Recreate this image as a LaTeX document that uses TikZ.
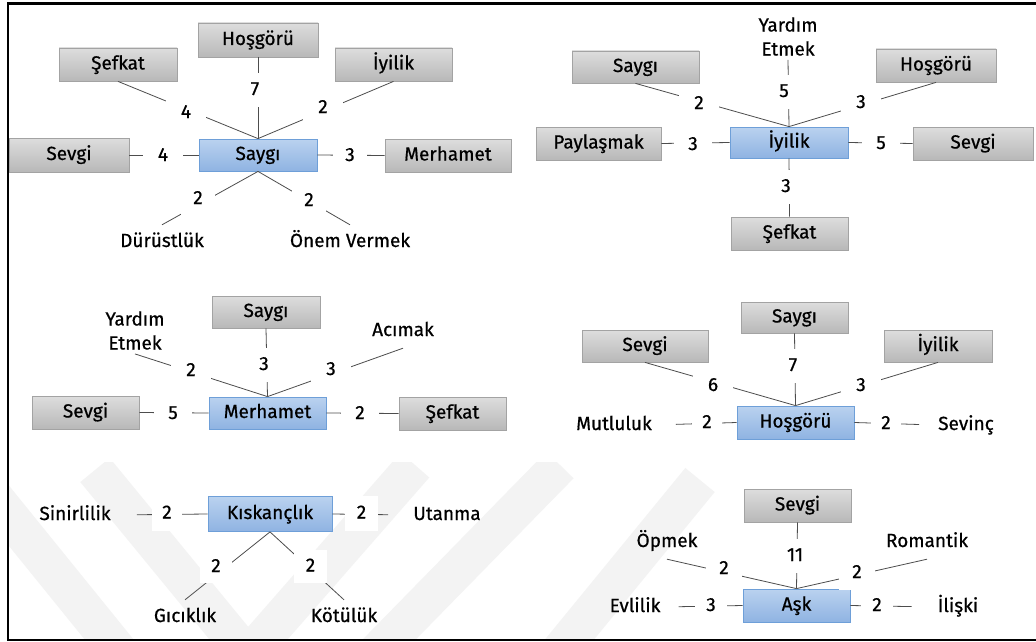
\documentclass[tikz,border=0pt]{standalone}
\usepackage{fontspec}
\setmainfont{Fira Sans}[FakeBold=0.6]
\definecolor{hubtop}{HTML}{BAD2EF}
\definecolor{hubbot}{HTML}{8FB3E2}
\definecolor{hubedge}{HTML}{6E9FD8}
\definecolor{leaftop}{HTML}{DDDDDD}
\definecolor{leafbot}{HTML}{B8B8B8}
\definecolor{leafedge}{HTML}{A3A3A3}
\definecolor{linkc}{HTML}{4D4D4D}
\definecolor{wmgray}{HTML}{F3F3F3}
\begin{document}
\begin{tikzpicture}[x=1pt,y=-1pt,
  every node/.style={font=\fontsize{19}{23}\selectfont, text=black},
  hub/.style={draw=hubedge, line width=0.8, top color=hubtop, bottom color=hubbot,
              inner sep=0, text height=14, text depth=4},
  leaf/.style={draw=leafedge, line width=0.8, top color=leaftop, bottom color=leafbot,
               inner sep=0, text height=14, text depth=4},
  word/.style={inner xsep=3, inner ysep=8, text height=14, text depth=4},
  words/.style={align=center, inner sep=4, font=\fontsize{19}{24}\selectfont},
  num/.style={fill=white, inner sep=0, minimum width=34, minimum height=34,
              text height=14, text depth=4},
  link/.style={draw=linkc, line width=0.8},
  wm/.style={draw=wmgray, line width=38},
  frame/.style={draw=black, line width=2.6},
]
% canvas
\fill[white] (0,0) rectangle (1036,642);
\useasboundingbox (0,0) rectangle (1036,642);

% faint background emblem (lower left)
\begin{scope}
  \clip (9,462) rectangle (1036,639);
  \draw[wm] (-20,480) -- (150,690);
  \draw[wm] (95,470) -- (255,665);
  \draw[wm] (240,665) -- (415,465);
  \draw[wm] (330,700) -- (560,465);
  \draw[wm] (520,700) -- (700,480);
\end{scope}

% ---------------- Saygı ----------------
\node[hub,  minimum width=118, minimum height=32] (s1)   at (258,155)   {Saygı};
\node[leaf, minimum width=120, minimum height=34] (s1t)  at (258,40)    {Hoşgörü};
\node[leaf, minimum width=118, minimum height=33] (s1ul) at (118,64.5)  {Şefkat};
\node[leaf, minimum width=117, minimum height=33] (s1ur) at (393.5,64.5){İyilik};
\node[leaf, minimum width=120, minimum height=34] (s1l)  at (69,155)    {Sevgi};
\node[leaf, minimum width=126, minimum height=33] (s1r)  at (448,155.5) {Merhamet};
\node[word] (s1dl) at (162,242) {Dürüstlük};
\node[word] (s1dr) at (350,242) {Önem Vermek};
\draw[link] (s1ul.south) -- (s1.north);
\draw[link] (s1t.south)  -- (s1.north);
\draw[link] (s1ur.south) -- (s1.north);
\draw[link] (s1l.east)   -- (s1.west);
\draw[link] (s1.east)    -- (s1r.west);
\draw[link] (s1.south)   -- (s1dl.north);
\draw[link] (s1.south)   -- (s1dr.north);
\node[num, minimum width=40] (s1n1) at (186,113) {4};
\node[num] (s1n2) at (255,90)  {7};
\node[num, minimum width=40] (s1n3) at (323,108) {2};
\node[num, minimum width=40] (s1n4) at (163,156) {4};
\node[num] (s1n5) at (350,156) {3};
\node[num] (s1n6) at (198,199) {2};
\node[num] (s1n7) at (309,201) {2};

% ---------------- İyilik ----------------
\node[hub,  minimum width=118, minimum height=31] (s2)  at (789,142.5)   {İyilik};
\node[leaf, minimum width=127, minimum height=32] (s2ul) at (635.5,67)   {Saygı};
\node[leaf, minimum width=120, minimum height=33] (s2ur) at (936,65.5)   {Hoşgörü};
\node[leaf, minimum width=125, minimum height=33] (s2l)  at (598.5,143.5){Paylaşmak};
\node[leaf, minimum width=120, minimum height=33] (s2r)  at (973,143.5)  {Sevgi};
\node[leaf, minimum width=117, minimum height=33] (s2b)  at (789.5,233.5){Şefkat};
\node[words] (s2t) at (788,36.5) {Yardım\\Etmek};
\draw[link] (s2ul.south) -- (s2.north);
\draw[link] (s2t.south)  -- (s2.north);
\draw[link] (s2ur.south) -- (s2.north);
\draw[link] (s2l.east)   -- (s2.west);
\draw[link] (s2.east)    -- (s2r.west);
\draw[link] (s2.south)   -- (s2b.north);
\node[num, minimum width=40] (s2n1) at (699,104) {2};
\node[num] (s2n2) at (784,92)  {5};
\node[num, minimum width=40] (s2n3) at (861,103) {3};
\node[num, minimum width=38] (s2n4) at (693,145) {3};
\node[num, minimum width=38] (s2n5) at (881,144) {5};
\node[num] (s2n6) at (786,187) {3};

% ---------------- Merhamet ----------------
\node[hub,  minimum width=117, minimum height=32] (s3)   at (267.5,413)  {Merhamet};
\node[leaf, minimum width=108, minimum height=32] (s3t)  at (266,312)    {Saygı};
\node[leaf, minimum width=107, minimum height=33] (s3l)  at (85.5,412.5) {Sevgi};
\node[leaf, minimum width=107, minimum height=33] (s3r)  at (452.5,413.5){Şefkat};
\node[words] (s3ul) at (135,330.5) {Yardım\\Etmek};
\node[word]  (s3ur) at (403,331)   {Acımak};
\draw[link] (s3ul.south) -- (s3.north);
\draw[link] (s3t.south)  -- (s3.north);
\draw[link] (s3ur.south) -- (s3.north);
\draw[link] (s3l.east)   -- (s3.west);
\draw[link] (s3.east)    -- (s3r.west);
\node[num, minimum width=40] (s3n1) at (191,371) {2};
\node[num] (s3n2) at (264,365) {3};
\node[num, minimum width=40] (s3n3) at (331,370) {3};
\node[num, minimum width=38] (s3n4) at (173,414) {5};
\node[num, minimum width=38] (s3n5) at (360,414) {2};

% ---------------- Hoşgörü ----------------
\node[hub,  minimum width=117, minimum height=33] (s4)   at (795.5,422.5) {Hoşgörü};
\node[leaf, minimum width=107, minimum height=31] (s4t)  at (794.5,317.5) {Saygı};
\node[leaf, minimum width=126, minimum height=32] (s4ul) at (645,346)     {Sevgi};
\node[leaf, minimum width=108, minimum height=32] (s4ur) at (938,346)     {İyilik};
\node[word] (s4l) at (614,425) {Mutluluk};
\node[word] (s4r) at (966,425) {Sevinç};
\draw[link] (s4ul.south) -- (s4.north);
\draw[link] (s4t.south)  -- (s4.north);
\draw[link] (s4ur.south) -- (s4.north);
\draw[link, shorten <=21pt] (s4l.east) -- (s4.west);
\draw[link, shorten >=16pt] (s4.east)  -- (s4r.west);
\node[num, minimum width=40] (s4n1) at (713,386) {6};
\node[num] (s4n2) at (793,366) {7};
\node[num, minimum width=40] (s4n3) at (861,386) {3};
\node[num, minimum width=30] (s4n4) at (707,423) {2};
\node[num, minimum width=30] (s4n5) at (886,424) {2};

% ---------------- Kıskançlık ----------------
\node[hub, minimum width=124, minimum height=35] (s5) at (270,514) {Kıskançlık};
\node[word] (s5l)  at (75,515)  {Sinirlilik};
\node[word] (s5r)  at (447,515) {Utanma};
\node[word] (s5bl) at (185,617) {Gıcıklık};
\node[word] (s5br) at (344,617) {Kötülük};
\draw[link, shorten <=23pt] (s5l.east) -- (s5.west);
\draw[link, shorten >=22pt] (s5.east)  -- (s5r.west);
\draw[link] (s5.south) -- (s5bl.north);
\draw[link] (s5.south) -- (s5br.north);
\node[num, minimum width=30, minimum height=35] (s5n1) at (167,513.5)   {2};
\node[num, minimum width=33, minimum height=35] (s5n2) at (361.5,513.5) {2};
\node[num, minimum width=32, minimum height=32] (s5n3) at (216,567)     {2};
\node[num, minimum width=33, minimum height=33] (s5n4) at (310.5,566.5) {2};

% ---------------- Aşk ----------------
\node[hub,  minimum width=107, minimum height=33] (s6)  at (796.5,605.5) {Aşk};
\node[leaf, minimum width=107, minimum height=33] (s6t) at (797.5,505.5) {Sevgi};
\node[word] (s6ul) at (667,542) {Öpmek};
\node[word] (s6ur) at (927,542) {Romantik};
\node[word] (s6l)  at (635,607) {Evlilik};
\node[word] (s6r)  at (958,607) {İlişki};
\draw[link] (s6ul.south) -- (s6.north);
\draw[link] (s6t.south)  -- (s6.north);
\draw[link] (s6ur.south) -- (s6.north);
\draw[link, shorten <=15pt] (s6l.east) -- (s6.west);
\draw[link, shorten >=23pt] (s6.east)  -- (s6r.west);
\node[num, minimum width=36, minimum height=36] (s6n1) at (724,569) {2};
\node[num] (s6n2) at (795,556) {11};
\node[num, minimum width=36] (s6n3) at (857,573) {2};
\node[num, minimum width=32] (s6n4) at (711,606) {3};
\node[num, minimum width=32] (s6n5) at (877,606) {2};

% outer frame (open on the right)
\draw[frame] (1040,3.7) -- (8,3.7) -- (8,640) -- (1040,640);
\end{tikzpicture}
\end{document}
